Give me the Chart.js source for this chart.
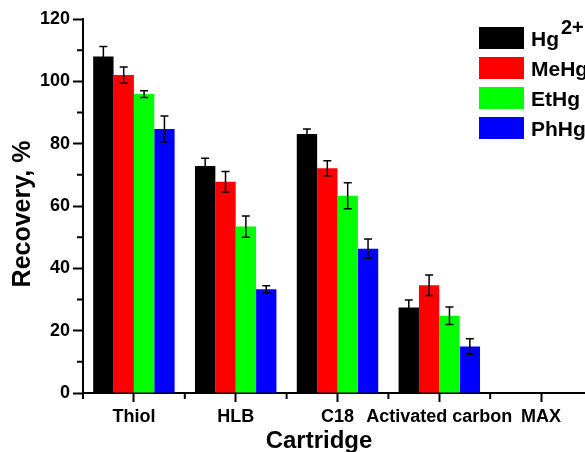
<!DOCTYPE html>
<html>
<head>
<meta charset="utf-8">
<script src="https://cdn.jsdelivr.net/npm/chart.js@4"></script>
<style>
  html, body { margin: 0; padding: 0; background: #fff; overflow: hidden; }
  #wrap { width: 610px; height: 455px; }
</style>
</head>
<body>
<div id="wrap"><canvas id="chart"></canvas></div>
<script>
// categorias e valores
const categories = ['Thiol', 'HLB', 'C18', 'Activated carbon', 'MAX'];
const hg   = [108.0, 72.8, 83.1, 27.4, null];
const meHg = [102.0, 67.8, 72.1, 34.6, null];
const etHg = [95.9, 53.4, 63.3, 24.8, null];
const phHg = [84.7, 33.3, 46.3, 14.9, null];
// desvios (barras de erro)
const hgErr   = [3.2, 2.5, 1.6, 2.4, null];
const meHgErr = [2.6, 3.3, 2.4, 3.3, null];
const etHgErr = [1.1, 3.4, 4.2, 2.8, null];
const phHgErr = [4.2, 1.1, 3.1, 2.5, null];
const yTicks = [0, 20, 40, 60, 80, 100, 120];
const yMinor = [10, 30, 50, 70, 90, 110];

const FONT = "'Liberation Sans', Arial, sans-serif";
const colors = ['#000000', '#ff0000', '#00ff00', '#0000ff'];

// barras de erro, ticks menores, títulos dos eixos e legenda
const extras = {
    id: 'extras',
    afterDatasetsDraw(chart) {
        const c = chart.ctx;
        const y = chart.scales.y;
        c.save();
        c.strokeStyle = '#000';
        c.lineWidth = 1.5;
        chart.data.datasets.forEach((ds, i) => {
            const meta = chart.getDatasetMeta(i);
            meta.data.forEach((bar, j) => {
                const v = ds.data[j];
                const e = ds.errors[j];
                if (v == null || e == null) return;
                const top = y.getPixelForValue(v + e);
                const bot = y.getPixelForValue(v - e);
                c.beginPath();
                c.moveTo(bar.x, top); c.lineTo(bar.x, bot);
                c.moveTo(bar.x - 4, top); c.lineTo(bar.x + 4, top);
                c.moveTo(bar.x - 4, bot); c.lineTo(bar.x + 4, bot);
                c.stroke();
            });
        });
        c.restore();
    },
    afterDraw(chart) {
        const c = chart.ctx;
        const x = chart.scales.x;
        const y = chart.scales.y;
        const area = chart.chartArea;
        c.save();
        c.strokeStyle = '#000';
        c.lineWidth = 2;
        c.beginPath();
        yMinor.forEach(v => {
            const py = y.getPixelForValue(v);
            c.moveTo(area.left, py); c.lineTo(area.left - 6, py);
        });
        const n = categories.length;
        const step = x.getPixelForTick(1) - x.getPixelForTick(0);
        for (let i = 0; i <= n; i++) {
            const px = x.getPixelForTick(0) + (i - 0.5) * step;
            c.moveTo(px, area.bottom); c.lineTo(px, area.bottom + 6);
        }
        c.stroke();

        // títulos dos eixos
        c.fillStyle = '#000';
        c.font = 'bold 24px ' + FONT;
        c.textAlign = 'center';
        c.textBaseline = 'alphabetic';
        c.fillText('Cartridge', 319, 448);
        c.save();
        c.translate(30, 214);
        c.rotate(-Math.PI / 2);
        c.font = 'bold 25px ' + FONT;
        c.fillText('Recovery, %', 0, 0);
        c.restore();

        // legenda
        const labels = ['Hg', 'MeHg', 'EtHg', 'PhHg'];
        labels.forEach((lab, i) => {
            const by = 27 + i * 30;
            c.fillStyle = colors[i];
            c.fillRect(479, by, 45, 22);
            c.fillStyle = '#000';
            c.font = 'bold 21px ' + FONT;
            c.textAlign = 'left';
            c.fillText(lab, 531, by + 11 + 7.5);
            if (i === 0) {
                const w = c.measureText(lab).width;
                c.font = 'bold 20px ' + FONT;
                c.fillText('2+', 531 + w + 2, by + 7);
            }
        });
        c.restore();
    }
};

const ctx = document.getElementById('chart').getContext('2d');

const chart = new Chart(ctx, {
    type: 'bar',
    data: {
        labels: categories,
        datasets: [
            { label: 'Hg2+', data: hg, errors: hgErr, backgroundColor: colors[0] },
            { label: 'MeHg', data: meHg, errors: meHgErr, backgroundColor: colors[1] },
            { label: 'EtHg', data: etHg, errors: etHgErr, backgroundColor: colors[2] },
            { label: 'PhHg', data: phHg, errors: phHgErr, backgroundColor: colors[3] }
        ]
    },
    options: {
        responsive: true,
        maintainAspectRatio: false,
        animation: false,
        categoryPercentage: 0.8,
        barPercentage: 1.0,
        layout: { padding: { top: 19, right: 18, bottom: 0, left: 0 } },
        plugins: {
            legend: { display: false },
            tooltip: { enabled: false }
        },
        scales: {
            x: {
                grid: { offset: false, drawOnChartArea: false, tickLength: 9, tickWidth: 2, tickColor: '#000' },
                border: { color: '#000', width: 2 },
                ticks: {
                    color: '#000', autoSkip: false, maxRotation: 0, padding: 4,
                    font: { family: FONT, size: 18, weight: 'bold' }
                },
                afterFit(scale) { scale.height = 62; }
            },
            y: {
                min: 0, max: 120,
                afterBuildTicks(scale) { scale.ticks = yTicks.map(v => ({ value: v })); },
                grid: { drawOnChartArea: false, tickLength: 10, tickWidth: 2, tickColor: '#000' },
                border: { color: '#000', width: 2 },
                ticks: {
                    color: '#000', padding: 3,
                    font: { family: FONT, size: 18, weight: 'bold' }
                },
                afterFit(scale) { scale.width = 83; }
            }
        }
    },
    plugins: [extras]
});
</script>
</body>
</html>
